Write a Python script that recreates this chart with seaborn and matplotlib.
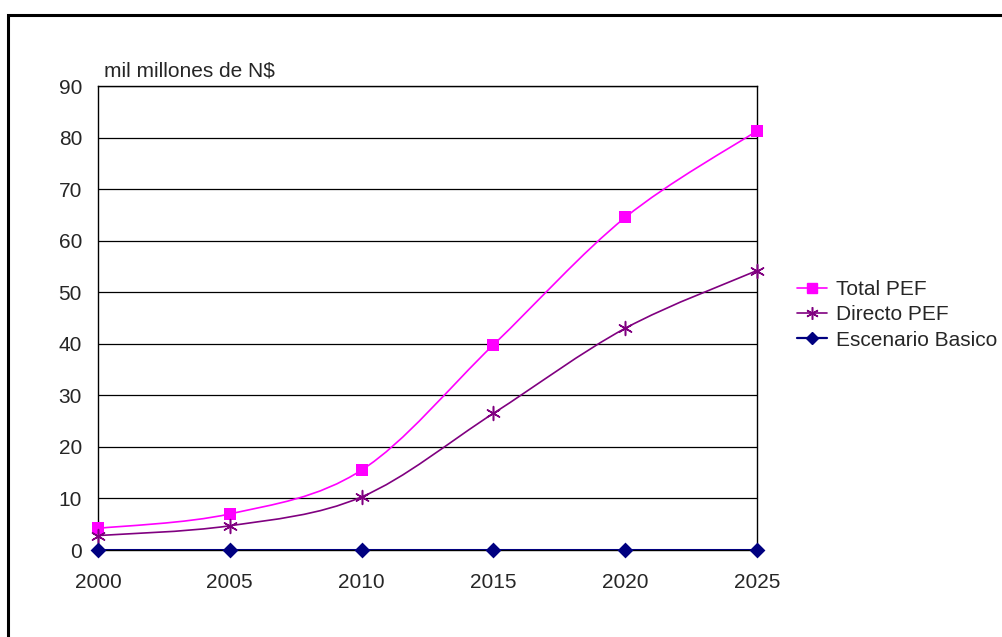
import numpy as np
import pandas as pd
import matplotlib
matplotlib.use("Agg")
import matplotlib.pyplot as plt
import seaborn as sns
from matplotlib.path import Path
from matplotlib.patches import PathPatch, Rectangle
from matplotlib.lines import Line2D

# ─────────────────────────────
# Data
# ─────────────────────────────
years = [2000, 2005, 2010, 2015, 2020, 2025]
total_pef = [4.2, 7.0, 15.5, 39.8, 64.5, 81.3]
directo_pef = [2.8, 4.7, 10.3, 26.5, 43.0, 54.2]
escenario_basico = [0, 0, 0, 0, 0, 0]

y_ticks = [0, 10, 20, 30, 40, 50, 60, 70, 80, 90]
unit_label = "mil millones de N$"

MAGENTA = "#FF00FF"
PURPLE = "#800080"
NAVY = "#000080"
STAR = (6, 2, 0)
FS = 15


def smooth_path(xs, ys):
    """Excel-style smoothed line: cubic Bezier segments through the points."""
    pts = np.column_stack([xs, ys]).astype(float)
    n = len(pts)
    verts = [pts[0]]
    codes = [Path.MOVETO]
    for i in range(n - 1):
        p0 = pts[i - 1] if i > 0 else pts[i]
        p1 = pts[i]
        p2 = pts[i + 1]
        p3 = pts[i + 2] if i + 2 < n else pts[i + 1]
        c1 = p1 + (p2 - p0) / 6.0
        c2 = p2 - (p3 - p1) / 6.0
        verts += [c1, c2, p2]
        codes += [Path.CURVE4] * 3
    return Path(verts, codes)


sns.set_style("white")
plt.rcParams["font.family"] = ["Liberation Sans", "DejaVu Sans"]

fig = plt.figure(figsize=(10.02, 6.37), dpi=100)
ax = fig.add_axes([98 / 1002, 1 - 550 / 637, 659 / 1002, 464 / 637])

# outer chart border (only left/top visible in the reference)
fig.patches.append(Rectangle((7.5 / 1002, -0.1), 1.2, 1 - 14.5 / 637 + 0.1,
                             transform=fig.transFigure, fill=False,
                             edgecolor="black", linewidth=2.2))

df = pd.DataFrame({"year": years, "total": total_pef,
                   "directo": directo_pef, "basico": escenario_basico})

# smoothed lines
ax.add_patch(PathPatch(smooth_path(years, total_pef), fill=False,
                       edgecolor=MAGENTA, linewidth=1.2, zorder=3))
ax.add_patch(PathPatch(smooth_path(years, directo_pef), fill=False,
                       edgecolor=PURPLE, linewidth=1.2, zorder=3))
sns.lineplot(data=df, x="year", y="basico", color=NAVY, linewidth=2.2,
             ax=ax, zorder=4)

# markers
sns.scatterplot(data=df, x="year", y="total", marker="s", color=MAGENTA,
                s=80, linewidth=0, ax=ax, zorder=5, clip_on=False)
sns.scatterplot(data=df, x="year", y="directo", marker=STAR, color=PURPLE,
                s=100, linewidth=1.1, edgecolor=PURPLE, ax=ax, zorder=5,
                clip_on=False)
sns.scatterplot(data=df, x="year", y="basico", marker="D", color=NAVY,
                s=65, linewidth=0, ax=ax, zorder=6, clip_on=False)

ax.set_xlim(years[0], years[-1])
ax.set_ylim(0, 90)
ax.set_xticks(years)
ax.set_yticks(y_ticks)
ax.set_xlabel("")
ax.set_ylabel("")
ax.grid(axis="y", color="black", linewidth=0.9)
ax.grid(axis="x", visible=False)
for sp in ax.spines.values():
    sp.set_color("black")
    sp.set_linewidth(1.0)
ax.tick_params(axis="y", length=0, pad=11.5, labelsize=FS)
ax.tick_params(axis="x", length=6, direction="inout", pad=13.5, labelsize=FS,
               color="#333333")

ax.annotate(unit_label, xy=(0, 1), xycoords="axes fraction",
            xytext=(6, 9), textcoords="offset pixels", fontsize=FS,
            ha="left", va="baseline")

handles = [
    Line2D([], [], color=MAGENTA, marker="s", markersize=7.5, linewidth=1.2),
    Line2D([], [], color=PURPLE, marker=STAR, markersize=9, linewidth=1.2,
           markeredgewidth=1.1),
    Line2D([], [], color=NAVY, marker="D", markersize=6.5, linewidth=1.6),
]
fig.legend(handles, ["Total PEF", "Directo PEF", "Escenario Basico"],
           loc="center left", bbox_to_anchor=(797 / 1002, 1 - 315 / 637),
           frameon=False, fontsize=FS, handlelength=1.45, handletextpad=0.4,
           labelspacing=0.3, borderaxespad=0, borderpad=0)

fig.savefig("out.png", dpi=100)
